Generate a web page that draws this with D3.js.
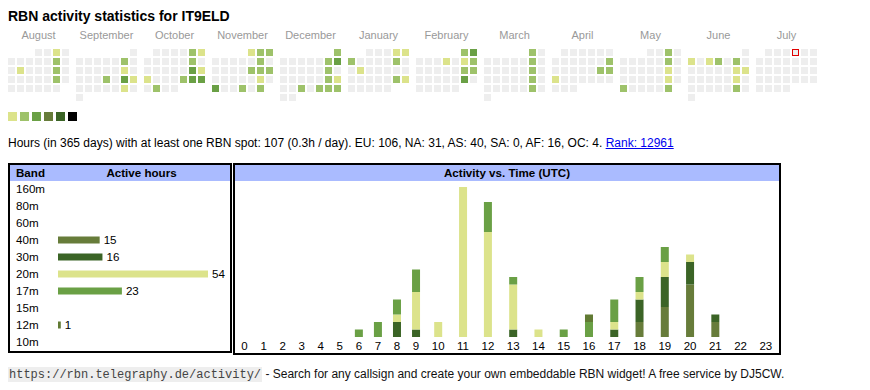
<!DOCTYPE html>
<html><head><meta charset="utf-8">
<script src="https://cdn.jsdelivr.net/npm/d3@7"></script>
<style>
html,body{margin:0;padding:0;background:#fff;}
svg{display:block;font-family:"Liberation Sans",Arial,sans-serif;}
</style></head>
<body>
<svg id="c" width="870" height="390"></svg>
<script>
// ---------- DATA ----------
const titleText = "RBN activity statistics for IT9ELD";
const monthNames = ["August","September","October","November","December","January","February","March","April","May","June","July"];
const monthYears = [2024,2024,2024,2024,2024,2025,2025,2025,2025,2025,2025,2025];
const monthNums  = [7,8,9,10,11,0,1,2,3,4,5,6];
// [day of month, activity level]
const dayLevels = [
  [[3,1],[10,2],[13,1],[17,2],[24,2]],
  [[7,2],[14,1],[19,2],[21,3],[22,1],[28,1]],
  [[5,2],[6,1],[12,2],[19,3],[20,1],[21,1],[25,2],[26,3],[27,3],[29,2]],
  [[1,1],[2,2],[3,2],[9,2],[15,2],[16,2],[17,2],[23,1],[25,3],[28,2],[30,2]],
  [[1,2],[7,2],[8,3],[14,2],[21,2],[22,1],[25,2],[27,2],[28,2],[29,2]],
  [[4,1],[5,1],[6,2],[11,2],[14,1],[25,2],[26,1]],
  [[1,2],[2,3],[6,1],[8,1],[9,2],[15,2],[16,2],[22,3]],
  [[1,2],[8,2],[15,2],[22,2],[29,2]],
  [[13,2],[19,2],[20,2],[21,1]],
  [[3,2],[10,2],[17,1],[24,1],[26,2],[31,2]],
  [[2,1],[4,1],[5,2],[7,2],[14,1],[15,1],[21,1],[28,2]],
  []
];
const todayStr = "2025-07-04";
const levelColors = ["#eeeeee","#dce38b","#9ec26a","#6aa045","#677c3a","#3b6426","#000000"];

const statsText = "Hours (in 365 days) with at least one RBN spot: 107 (0.3h / day). EU: 106, NA: 31, AS: 40, SA: 0, AF: 16, OC: 4. ";
const rankText = "Rank: 12961";

const bands = ["160m","80m","60m","40m","30m","20m","17m","15m","12m","10m"];
const bandHours = [0,0,0,15,16,54,23,0,1,0];
const bandColors = ["#8a5a9a","#c05050","#5070c0","#677c3a","#3b6426","#dce38b","#6aa045","#a0a0a0","#617a33","#909090"];

const hourLabels = ["0","1","2","3","4","5","6","7","8","9","10","11","12","13","14","15","16","17","18","19","20","21","22","23"];
const h40m = [0,0,0,0,0,0,0,0,0,0,0,0,0,0,0,0,0,0,2,4,7,2,0,0];
const h30m = [0,0,0,0,0,0,0,0,2,1,0,0,0,1,0,0,0,1,3,4,3,1,0,0];
const h20m = [0,0,0,0,0,0,0,0,1,5,2,20,14,6,1,0,0,1,1,2,1,0,0,0];
const h17m = [0,0,0,0,0,0,1,2,2,3,0,0,4,1,0,1,2,3,2,2,0,0,0,0];
const h12m = [0,0,0,0,0,0,0,0,0,0,0,0,0,0,0,0,1,0,0,0,0,0,0,0];

const footerUrl = "https://rbn.telegraphy.de/activity/";
const footerText = " - Search for any callsign and create your own embeddable RBN widget! A free service by DJ5CW.";

// ---------- DRAW ----------
const svg = d3.select("#c");

svg.append("text").attr("x",8).attr("y",21).attr("font-size",14).attr("font-weight","bold").text(titleText);

// calendar
const cell = 7, pitch = 9;
const xMonth = d3.scaleLinear().domain([0,1]).range([8,76]);
const today = d3.timeParse("%Y-%m-%d")(todayStr);
const calTop = 49;
monthNames.forEach((name,i)=>{
  const x0 = xMonth(i);
  svg.append("text").attr("x",x0+30.5).attr("y",39).attr("text-anchor","middle")
     .attr("font-size",11).attr("fill","#999").text(name);
  const first = new Date(monthYears[i], monthNums[i], 1);
  const days = d3.timeDays(first, d3.timeMonth.offset(first,1));
  const offset = (first.getDay()+6)%7;
  const lv = new Map(dayLevels[i]);
  const g = svg.append("g");
  g.selectAll("rect").data(days).join("rect")
    .attr("x", d => x0 + ((d.getDay()+6)%7)*pitch)
    .attr("y", d => calTop + Math.floor((d.getDate()-1+offset)/7)*pitch)
    .attr("width",cell).attr("height",cell)
    .attr("fill", d => levelColors[lv.get(d.getDate())||0]);
  days.filter(d => +d === +today).forEach(d=>{
    g.append("rect")
     .attr("x", x0 + ((d.getDay()+6)%7)*pitch + 0.5)
     .attr("y", calTop + Math.floor((d.getDate()-1+offset)/7)*pitch + 0.5)
     .attr("width",cell-1).attr("height",cell-1)
     .attr("fill","none").attr("stroke","#e00000").attr("stroke-width",1);
  });
});

// legend
svg.append("g").selectAll("rect").data(levelColors.slice(1)).join("rect")
  .attr("x",(d,i)=>8+i*12).attr("y",112).attr("width",9).attr("height",9).attr("fill",d=>d);

// stats line
const st = svg.append("text").attr("x",8).attr("y",147).attr("font-size",12);
st.append("tspan").text(statsText);
const rk = st.append("tspan").attr("fill","#0000ee").text(rankText);
{
  const full = st.node().getComputedTextLength();
  const rl = rk.node().getComputedTextLength();
  svg.append("line").attr("x1",8+full-rl).attr("x2",8+full).attr("y1",148.5).attr("y2",148.5)
     .attr("stroke","#0000ee").attr("stroke-width",1);
}

// band table
svg.append("rect").attr("x",9).attr("y",164).attr("width",222).attr("height",188)
  .attr("fill","#fff").attr("stroke","#000").attr("stroke-width",2);
svg.append("rect").attr("x",10).attr("y",165).attr("width",220).attr("height",16).attr("fill","#aabbff");
svg.append("text").attr("x",16).attr("y",177).attr("font-size",11.6).attr("font-weight","bold").text("Band");
svg.append("text").attr("x",141.5).attr("y",177).attr("font-size",11.6).attr("font-weight","bold").attr("text-anchor","middle").text("Active hours");

const yBand = d3.scaleBand().domain(bands).range([180.5,350.5]);
const xBandH = d3.scaleLinear().domain([0,d3.max(bandHours)]).range([0,150]);
const bt = svg.append("g");
bands.forEach((b,i)=>{
  const cy = yBand(b)+yBand.bandwidth()/2;
  bt.append("text").attr("x",16).attr("y",cy+4).attr("font-size",11.6).text(b);
  if(bandHours[i]>0){
    bt.append("rect").attr("x",58).attr("y",cy-3.5).attr("width",xBandH(bandHours[i])).attr("height",7).attr("fill",bandColors[i]);
    bt.append("text").attr("x",58+xBandH(bandHours[i])+4).attr("y",cy+4).attr("font-size",11.6).text(bandHours[i]);
  }
});

// activity vs time
svg.append("rect").attr("x",234).attr("y",164).attr("width",546).attr("height",190)
  .attr("fill","#fff").attr("stroke","#000").attr("stroke-width",2);
svg.append("rect").attr("x",235).attr("y",165).attr("width",544).attr("height",16).attr("fill","#aabbff");
svg.append("text").attr("x",507).attr("y",177).attr("font-size",11.6).attr("font-weight","bold").attr("text-anchor","middle").text("Activity vs. Time (UTC)");

// column layout like an auto html table
const lblG = svg.append("g").attr("font-size",11.5);
const lbls = lblG.selectAll("text").data(hourLabels).join("text").text(d=>d);
const widths = lbls.nodes().map(n=>n.getComputedTextLength()+13.2);
const totalW = d3.sum(widths);
const innerL = 235, innerR = 778.5;
const k = (innerR-innerL)/totalW;
let acc = innerL; const centers = [];
widths.forEach(w=>{ centers.push(acc + w*k/2); acc += w*k; });
const xHour = d3.scaleOrdinal().domain(hourLabels).range(centers);
lbls.attr("x",d=>xHour(d)).attr("y",350).attr("text-anchor","middle");

const yAct = d3.scaleLinear().domain([0,20]).range([337,187]);
const hourSeries = {"40m":h40m,"30m":h30m,"20m":h20m,"17m":h17m,"12m":h12m};
const keys = bands.filter(b=>hourSeries[b]);
const table = hourLabels.map((h,i)=>{ const o={hour:h}; keys.forEach(kk=>o[kk]=hourSeries[kk][i]); return o; });
const stacked = d3.stack().keys(keys)(table);
svg.append("g").selectAll("g").data(stacked).join("g")
  .attr("fill",s=>bandColors[bands.indexOf(s.key)])
  .selectAll("rect").data(s=>s.filter(d=>d[1]>d[0])).join("rect")
  .attr("x",d=>xHour(d.data.hour)-4).attr("width",8)
  .attr("y",d=>yAct(d[1])).attr("height",d=>yAct(d[0])-yAct(d[1]));

// footer
const fu = svg.append("text").attr("x",9).attr("y",378).attr("font-size",12)
  .attr("font-family","'Liberation Mono','Courier New',monospace").attr("fill","#444").text(footerUrl);
const fw = fu.node().getComputedTextLength();
svg.insert("rect","text").attr("x",8).attr("y",367).attr("width",fw+2).attr("height",15).attr("fill","#eeeeee");
svg.append("text").attr("x",9+fw+1).attr("y",378).attr("font-size",12).attr("fill","#111").attr("xml:space","preserve").text(footerText);
</script>
</body></html>
